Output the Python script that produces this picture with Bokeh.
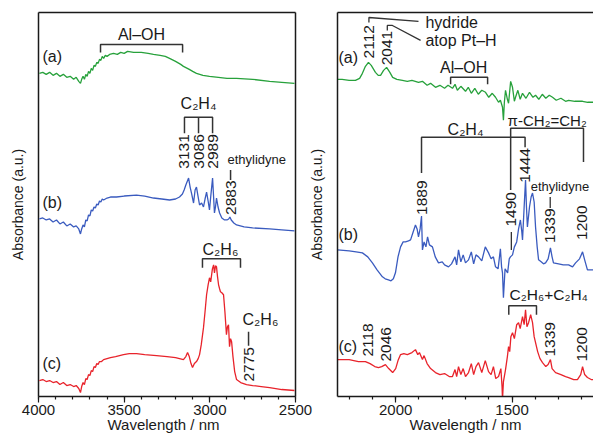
import math
from bokeh.plotting import figure
from bokeh.models import Range1d, LinearAxis, FixedTicker, SingleIntervalTicker
from bokeh.layouts import row
from bokeh.embed import file_html
from bokeh.resources import INLINE
from bokeh.core.properties import value

FONT = "Liberation Sans"
TXT = "#1a1a1a"
FRAME = "#1a1a1a"
GREEN, BLUE, RED = "#27a13b", "#3a5bbf", "#e8232b"

# ---------------- data: left panel (4000-2500) ----------------
la_w = [3995,3975,3955,3935,3915,3895,3875,3855,3835,3815,3795,3780,3765,3755,3748,3740,3732,3724,3716,3708,
        3700,3692,3684,3676,3668,3660,3652,3644,3636,3628,3620,3610,3600,3585,3562,3540,3520,3500,3480,3445,
        3400,3360,3329,3290,3260,3235,3200,3170,3154,3120,3100,3078,3040,3002,2950,2900,2844,2750,2651,2580,2506]
la_y = [324,325,323,325,322,324,321,323,320,321,318,320,316,314,318,321,318,323,321,326,
        324,329,327,332,331,335,334,338,337,341,339,342,341,343,344,343,345,344,346,345,
        345,344,343,342,341,339,336,333,331,328,326,324,322,321,320,319,319,318,316,315,314]

lb_w = [3995,3975,3955,3935,3915,3895,3875,3855,3835,3815,3795,3780,3765,3755,3748,3740,3732,3724,3716,3708,
        3700,3692,3684,3676,3668,3660,3652,3644,3636,3628,3620,3600,3580,3545,3500,3428,3380,3329,3280,3235,
        3200,3177,3160,3150,3140,3124,3115,3107,3095,3086,3078,3068,3060,3048,3037,3028,3019,3010,3002,2995,
        2984,2978,2973,2967,2961,2952,2943,2930,2914,2900,2890,2883,2875,2860,2844,2800,2750,2651,2580,2506]
lb_y = [178,179,177,178,175,177,173,175,171,173,170,171,168,163,168,172,170,177,176,182,
        181,187,186,190,189,193,192,196,195,198,197,199,200,200,201,202,201,199,198,197,
        198,200,203,207,212,219,210,204,194,207,210,200,192,194,190,198,205,196,187,200,
        219,200,184,190,199,190,184,179,177,177,178,180,177,174,172,170,169,168,167,166]

lc_w = [3995,3975,3955,3935,3915,3895,3875,3855,3835,3815,3795,3780,3765,3755,3748,3740,3732,3724,3716,3708,
        3700,3692,3684,3676,3668,3660,3652,3644,3632,3620,3600,3580,3550,3504,3470,3428,3380,3311,3250,3200,
        3154,3140,3130,3120,3110,3101,3090,3078,3068,3060,3050,3037,3028,3019,3010,3002,2995,2985,2978,2973,
        2967,2961,2955,2949,2943,2938,2930,2920,2912,2903,2897,2891,2885,2879,2873,2865,2855,2844,2820,2786,
        2750,2700,2651,2580,2506]
lc_y = [16,17,15,16,14,15,12,14,11,12,10,11,8,4,10,14,12,18,17,22,
        21,26,25,30,29,33,32,35,35,37,38,39,40,42,43,43,42,41,40,39,
        37,40,44,40,33,29,33,35,38,42,52,69,85,102,112,119,115,128,132,124,
        131,130,120,112,108,105,104,102,85,62,70,72,50,58,55,40,25,17,14,12,
        11,10,9,7,6]

# ---------------- data: right panel (2250-1150) ----------------
ra_w = [2250,2230,2200,2173,2155,2143,2130,2117,2105,2087,2075,2065,2052,2039,2025,2013,1995,1971,1950,1930,
        1902,1885,1865,1850,1829,1810,1790,1775,1756,1745,1735,1720,1700,1688,1675,1660,1645,1630,1614,1600,
        1585,1571,1558,1550,1541,1537,1533,1528,1520,1515,1506,1498,1490,1485,1475,1465,1455,1440,1425,1410,
        1399,1385,1370,1355,1340,1326,1310,1290,1270,1257,1230,1197,1175,1150]
ra_y = [318,318,317,317,319,324,331,335,332,325,322,322,327,330,325,320,318,317,316,317,
        315,316,312,314,310,312,309,312,309,313,307,311,306,310,304,309,303,307,305,300,
        304,300,295,297,290,277,295,307,298,294,316,310,296,300,307,298,304,299,305,300,
        302,298,303,299,302,300,297,299,296,297,296,296,295,295]

rb_w = [2250,2200,2170,2143,2120,2100,2080,2057,2045,2031,2020,2010,2001,1990,1979,1968,1958,1945,1936,1925,
        1915,1908,1902,1895,1889,1885,1878,1870,1863,1855,1842,1830,1816,1800,1790,1773,1760,1745,1738,1730,
        1720,1710,1700,1687,1675,1665,1655,1644,1630,1615,1601,1590,1580,1571,1560,1550,1545,1541,1537,1530,
        1519,1512,1507,1498,1490,1480,1472,1464,1458,1455,1448,1442,1438,1434,1425,1418,1412,1405,1399,1392,
        1386,1375,1365,1356,1345,1335,1328,1322,1300,1280,1257,1240,1227,1210,1197,1188,1176,1160,1150]
rb_y = [147,146,145,144,140,134,127,120,118,117,116,118,124,140,150,155,155,156,157,165,
        172,168,160,168,181,147,155,150,160,152,150,140,134,135,132,130,133,140,132,147,
        135,142,134,137,145,133,142,140,136,150,144,138,140,130,128,148,130,124,99,128,
        124,138,140,142,150,155,168,177,165,157,190,217,190,170,190,200,204,195,170,150,
        137,135,133,134,138,149,140,134,133,132,132,130,134,138,145,137,127,127,127]

rc_w = [2250,2200,2160,2130,2110,2090,2074,2060,2044,2030,2013,2000,1990,1979,1965,1950,1930,1915,1905,1898,
        1885,1878,1865,1850,1829,1810,1790,1770,1756,1745,1738,1730,1720,1710,1700,1687,1675,1665,1655,1644,
        1630,1615,1601,1590,1580,1570,1558,1548,1543,1541,1537,1528,1520,1515,1510,1505,1498,1490,1480,1472,
        1465,1455,1448,1442,1436,1429,1420,1412,1405,1399,1390,1380,1369,1355,1345,1335,1328,1313,1290,1270,
        1257,1235,1219,1205,1197,1188,1176,1160,1150]
rc_y = [37,37,35,35,33,30,29,30,32,28,24,28,36,42,43,42,44,47,42,44,
        37,41,33,28,24,22,23,20,20,27,20,30,22,28,20,24,33,22,30,34,
        24,36,25,22,30,18,20,28,10,-3,15,27,40,50,45,60,64,58,72,74,
        68,80,72,87,70,74,82,74,60,54,45,38,34,30,32,37,28,24,22,20,
        19,17,17,22,30,22,19,17,17]

# axis limits
L_MIN, L_MAX = 2500, 4000
R_START, R_END = 2250, 1150
Y_TOP = 385
Y_LABEL = "Absorbance (a.u.)"
X_LABEL = "Wavelength / nm"


def add_text(p, xs, ys, labels, size="16px", angle=0.0, align="left", baseline="middle"):
    p.text(x=xs, y=ys, text=labels, angle=angle, text_font=value(FONT),
           text_font_size=value(size), text_align=value(align),
           text_baseline=value(baseline), text_color=TXT)


def style_bottom(ax):
    ax.ticker = SingleIntervalTicker(interval=500, num_minor_ticks=5)
    ax.axis_line_color = FRAME
    ax.axis_line_width = 1.5
    ax.major_tick_line_color = FRAME
    ax.minor_tick_line_color = FRAME
    ax.major_tick_line_width = 1.2
    ax.minor_tick_line_width = 1.2
    ax.major_tick_in = 0
    ax.minor_tick_in = 0
    ax.major_tick_out = 6
    ax.minor_tick_out = 3
    ax.major_label_standoff = 2
    ax.major_label_text_font = FONT
    ax.major_label_text_font_size = "15px"
    ax.major_label_text_color = TXT
    ax.axis_label = X_LABEL
    ax.axis_label_text_font = FONT
    ax.axis_label_text_font_size = "15px"
    ax.axis_label_text_font_style = "normal"
    ax.axis_label_text_color = TXT
    ax.axis_label_standoff = -2


def rule_axis(**kw):
    ax = LinearAxis(ticker=FixedTicker(ticks=[]), major_tick_out=0, minor_tick_out=0,
                    major_tick_in=0, minor_tick_in=0, major_label_standoff=0,
                    axis_line_color=FRAME, axis_line_width=1.5, **kw)
    return ax


H = 436
TOP, BOTTOM = 12, 40

# ---------------- left figure ----------------
W1 = 326
px_per = 257 / 1500
l_start = L_MAX + 38 / px_per
l_end = l_start - W1 / px_per
p1 = figure(width=W1, height=H, x_range=Range1d(l_start, l_end), y_range=Range1d(0, Y_TOP),
            output_backend="svg", toolbar_location=None,
            min_border_left=0, min_border_right=0, min_border_top=TOP, min_border_bottom=BOTTOM)
p1.outline_line_color = None
p1.grid.visible = False
p1.yaxis.visible = False
style_bottom(p1.xaxis[0])
p1.xaxis[0].bounds = (L_MIN, L_MAX)
p1.add_layout(rule_axis(bounds=(L_MIN, L_MAX)), "above")
# left and right frame sides of the left panel
p1.segment(x0=[L_MAX, L_MIN], y0=[-5, -5], x1=[L_MAX, L_MIN], y1=[Y_TOP + 5, Y_TOP + 5],
           line_color=FRAME, line_width=1.5)

p1.line(la_w, la_y, line_color=GREEN, line_width=1.3)
p1.line(lb_w, lb_y, line_color=BLUE, line_width=1.3)
p1.line(lc_w, lc_y, line_color=RED, line_width=1.3)

# y-axis labels of both panels
add_text(p1, [L_MAX + 21 / px_per, L_MIN - 21 / px_per], [192.5, 192.5], [Y_LABEL, Y_LABEL],
         size="14px", angle=math.pi / 2, align="center", baseline="middle")

# sample tags
add_text(p1, [3977] * 3, [341, 195, 33], ["(a)", "(b)", "(c)"], size="16px")

# brackets
p1.multi_line(xs=[[3638, 3638, 3159, 3159], [3148, 3148, 2984, 2984], [3066, 3066], [3043, 3043, 2821, 2821]],
              ys=[[345, 353, 353, 345], [264, 280, 280, 264], [280, 264], [129, 138, 138, 129]],
              line_color="#333333", line_width=1.5)
# leader dashes
p1.multi_line(xs=[[2879, 2879], [2774, 2774]], ys=[[227, 217], [65, 51]],
              line_color="#333333", line_width=1.5)

add_text(p1, [3399], [363], ["Al–OH"], size="16px", align="center", baseline="alphabetic")
add_text(p1, [3066, 2938], [294, 147], ["C₂H₄", "C₂H₆"],
         size="16px", align="center", baseline="alphabetic")
add_text(p1, [2809], [77], ["C₂H₆"], size="16px", align="left", baseline="alphabetic")
add_text(p1, [2897], [238], ["ethylidyne"], size="13px", align="left", baseline="middle")
add_text(p1, [3148, 3066, 2984], [263, 263, 263], ["3131", "3086", "2989"],
         size="15.5px", angle=math.pi / 2, align="right", baseline="middle")
add_text(p1, [2879, 2774], [182, 15], ["2883", "2775"],
         size="15.5px", angle=math.pi / 2, align="left", baseline="middle")

# ---------------- right figure ----------------
W2 = 267
p2 = figure(width=W2, height=H, x_range=Range1d(R_START, R_END), y_range=Range1d(0, Y_TOP),
            output_backend="svg", toolbar_location=None,
            min_border_left=11, min_border_right=0, min_border_top=TOP, min_border_bottom=BOTTOM)
p2.outline_line_color = None
p2.grid.visible = False
style_bottom(p2.xaxis[0])
ya = p2.yaxis[0]
ya.ticker = FixedTicker(ticks=[])
ya.major_tick_out = 0
ya.minor_tick_out = 0
ya.major_tick_in = 0
ya.minor_tick_in = 0
ya.major_label_standoff = 0
ya.axis_line_color = FRAME
ya.axis_line_width = 1.5
p2.add_layout(rule_axis(), "above")

p2.line(ra_w, ra_y, line_color=GREEN, line_width=1.3)
p2.line(rb_w, rb_y, line_color=BLUE, line_width=1.3)
p2.line(rc_w, rc_y, line_color=RED, line_width=1.3)

add_text(p2, [2246] * 3, [340, 162, 50], ["(a)", "(b)", "(c)"], size="16px")

# brackets
p2.multi_line(xs=[[1764, 1764, 1605, 1605], [1889, 1889, 1444, 1444], [1506, 1506, 1193, 1193],
                  [1514, 1514, 1395, 1395]],
              ys=[[313, 320, 320, 313], [224, 260, 260, 250], [207, 269, 269, 235], [82, 91, 91, 82]],
              line_color="#333333", line_width=1.5)
# leader lines
p2.multi_line(xs=[[2115, 2115, 1902], [2036, 2036, 2014, 1893], [1503, 1503], [1336, 1336]],
              ys=[[375, 380, 376], [367, 372, 372, 357], [165, 147], [200, 189]],
              line_color="#333333", line_width=1.3)

add_text(p2, [1872, 1872], [375, 357], ["hydride", "atop Pt–H"], size="16px")
add_text(p2, [1708], [330], ["Al–OH"], size="16px", align="center", baseline="alphabetic")
add_text(p2, [1700], [268], ["C₂H₄"], size="16px", align="center", baseline="alphabetic")
add_text(p2, [1519], [277], ["π-CH₂=CH₂"], size="15px", align="left", baseline="alphabetic")
add_text(p2, [1511], [102], ["C₂H₆+C₂H₄"], size="15.5px", align="left", baseline="alphabetic")
add_text(p2, [1420], [211], ["ethylidyne"], size="13px")
add_text(p2, [2115, 2036, 1889, 1336, 1198, 2117, 2043, 1336, 1198],
         [339, 332, 182, 154, 157, 40, 35, 40, 35],
         ["2112", "2041", "1889", "1339", "1200", "2118", "2046", "1339", "1200"],
         size="15.5px", angle=math.pi / 2, align="left", baseline="middle")
add_text(p2, [1506, 1444], [205, 249], ["1490", "1444"],
         size="15.5px", angle=math.pi / 2, align="right", baseline="middle")

layout = row(p1, p2)
open("out.html", "w").write(file_html(layout, INLINE))
